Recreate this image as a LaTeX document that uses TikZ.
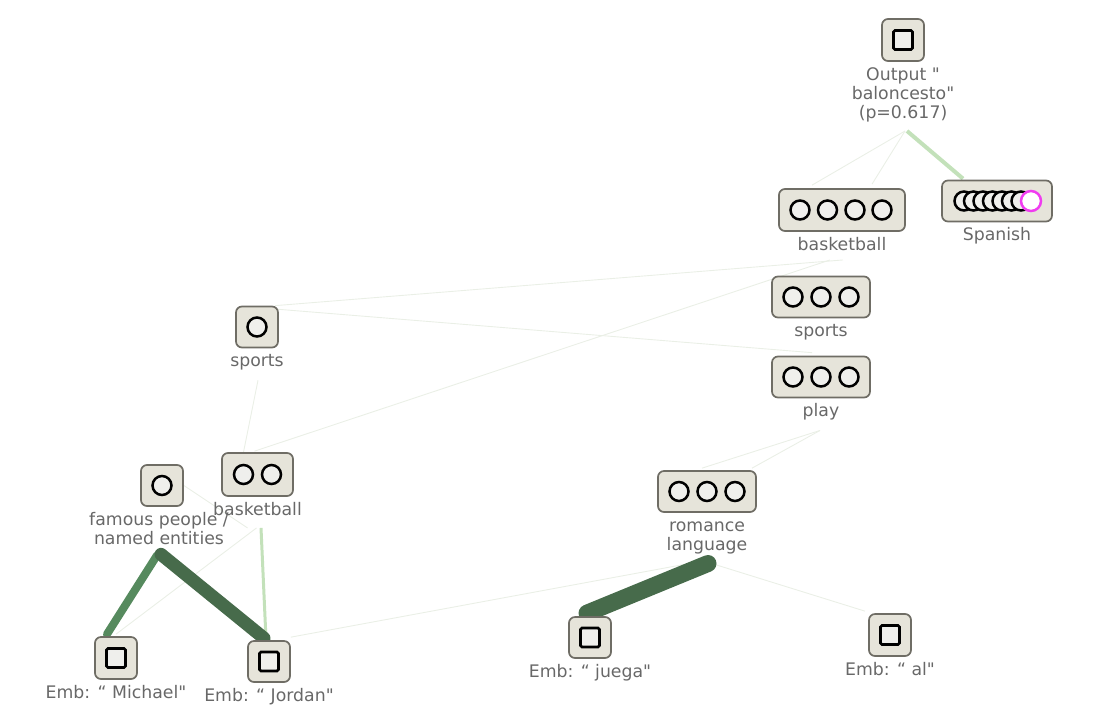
\documentclass[tikz,border=0pt]{standalone}
\usepackage{fontspec}
\setmainfont{DejaVu Sans}[Ligatures=TeXOff]
\usetikzlibrary{calc,backgrounds}
\definecolor{boxfill}{HTML}{E6E4DA}
\definecolor{boxedge}{HTML}{6F6D65}
\definecolor{featfill}{HTML}{EFEFEC}
\definecolor{lblgray}{HTML}{686868}
\definecolor{faintc}{HTML}{EAEFE6}
\definecolor{lightgreen}{HTML}{C3E1BA}
\definecolor{midgreen}{HTML}{568A5E}
\definecolor{darkgreen}{HTML}{476B4B}
\definecolor{hilite}{HTML}{F03CF0}
\begin{document}
\begin{tikzpicture}[x=1pt,y=-1pt,
  box/.style={draw=boxedge, fill=boxfill, line width=1.7pt, rounded corners=6pt, inner sep=0pt},
  feat/.style={draw=black, fill=featfill, line width=2.5pt},
  embsq/.style={draw=black, fill=featfill, line width=2.7pt, rounded corners=1.5pt},
  lbl/.style={text=lblgray, font=\fontsize{17.3}{18.5}\selectfont, align=center, inner sep=0pt, anchor=north},
  faint/.style={draw=faintc, line width=0.9pt},
  weak/.style={draw=lightgreen, line width=3pt},
]
\useasboundingbox (0,0) rectangle (1102,716);

% ---- feature boxes ----
\node[box, minimum width=42pt, minimum height=42pt] (out) at (903,40) {};
\node[box, minimum width=126pt, minimum height=42pt] (bbT) at (842,210) {};
\node[box, minimum width=110pt, minimum height=41pt] (spa) at (997,201) {};
\node[box, minimum width=98pt, minimum height=41pt] (spR) at (821,297) {};
\node[box, minimum width=98pt, minimum height=41pt] (ply) at (821,377) {};
\node[box, minimum width=42pt, minimum height=41pt] (spL) at (257,327) {};
\node[box, minimum width=71pt, minimum height=43pt] (bbL) at (257.5,474.5) {};
\node[box, minimum width=42pt, minimum height=41pt] (fam) at (162,485.5) {};
\node[box, minimum width=98pt, minimum height=41pt] (rom) at (707,491.5) {};
\node[box, minimum width=42pt, minimum height=42pt] (mic) at (116,658) {};
\node[box, minimum width=42pt, minimum height=41pt] (jor) at (269,661.5) {};
\node[box, minimum width=42pt, minimum height=41pt] (jue) at (590,637.5) {};
\node[box, minimum width=42pt, minimum height=42pt] (al) at (890,635) {};

% ---- glyphs inside the boxes ----
\foreach \n in {out,mic,jor,jue,al}
  \draw[embsq] ($(\n.center)+(-9.5,-9.5)$) rectangle ($(\n.center)+(9.5,9.5)$);
\foreach \dx in {-42,-14.5,13,40}
  \draw[feat] ($(bbT.center)+(\dx,0)$) circle[radius=9.5];
\foreach \dx in {-28,0,28}{
  \draw[feat] ($(spR.center)+(\dx,0)$) circle[radius=9.5];
  \draw[feat] ($(ply.center)+(\dx,0)$) circle[radius=9.5];
  \draw[feat] ($(rom.center)+(\dx,0)$) circle[radius=9.5];
}
\foreach \dx in {-14,14}
  \draw[feat] ($(bbL.center)+(\dx,0)$) circle[radius=9.5];
\draw[feat] (spL.center) circle[radius=9.5];
\draw[feat] (fam.center) circle[radius=9.5];
\foreach \dx in {-33,-23.5,-14,-4.5,5,14.5,24}
  \draw[feat] ($(spa.center)+(\dx,0)$) circle[radius=9.5];
\draw[draw=hilite, fill=white, line width=2.5pt] ($(spa.center)+(34,0)$) circle[radius=10];

% ---- labels ----
\node[lbl] (outL) at ($(out.south)+(0,5)$) {\strut Output "\\baloncesto"\\(p=0.617)};
\node[lbl] (bbTL) at ($(bbT.south)+(0,5)$) {\strut basketball};
\node[lbl] (spaL) at ($(spa.south)+(0,5)$) {\strut Spanish};
\node[lbl] (spRL) at ($(spR.south)+(0,5)$) {\strut sports};
\node[lbl] (plyL) at ($(ply.south)+(0,5)$) {\strut play};
\node[lbl] (spLL) at ($(spL.south)+(0,5)$) {\strut sports};
\node[lbl] (bbLL) at ($(bbL.south)+(0,5)$) {\strut basketball};
\node[lbl] (famL) at ($(fam.south)+(-3,5)$) {\strut famous people /\\named entities};
\node[lbl] (romL) at ($(rom.south)+(0,5)$) {\strut romance\\language};
\node[lbl] (micL) at ($(mic.south)+(0,5)$) {\strut Emb: “ Michael"};
\node[lbl] (jorL) at ($(jor.south)+(0,5)$) {\strut Emb: “ Jordan"};
\node[lbl] (jueL) at ($(jue.south)+(0,5)$) {\strut Emb: “ juega"};
\node[lbl] (alL) at ($(al.south)+(0,5)$) {\strut Emb: “ al"};

% ---- connectors (behind the boxes) ----
\begin{pgfonlayer}{background}
  % faint links
  \draw[faint] ($(outL.south)+(2,9)$) -- ($(bbT.north)+(-30,-3)$);
  \draw[faint] ($(outL.south)+(2,9)$) -- ($(bbT.north)+(30,-4)$);
  \draw[faint] ($(spL.north east)+(-4,0)$) -- ($(bbTL.south)+(1,4)$);
  \draw[faint] ($(spL.east)+(-4,-18)$) -- ($(ply.north)+(-9,-3)$);
  \draw[faint] ($(bbL.north)+(-3,-1)$) -- ($(bbTL.south)+(-12,4)$);
  \draw[faint] ($(spLL.south)+(1,8)$) -- ($(bbL.north)+(-14,0)$);
  \draw[faint] ($(plyL.south)+(-1,8)$) -- ($(rom.north)+(45,-2)$);
  \draw[faint] ($(plyL.south)+(-1,8)$) -- ($(rom.north)+(-5,-2)$);
  \draw[faint] ($(romL.south)+(8,10)$) -- ($(al.north)+(-25,-2)$);
  \draw[faint] ($(jor.north east)+(0,-3)$) -- ($(romL.south)+(-7,7)$);
  \draw[faint] ($(mic.north)+(0,-2)$) -- ($(bbLL.south)+(-1,7)$);
  \draw[faint] ($(fam.east)+(0,0)$) -- ($(bbLL.south)+(-10,7)$);
  % weighted links
  \draw[weak, line width=4pt] ($(outL.south)+(4,9)$) -- ($(spa.north)+(-34,-1)$);
  \draw[weak] ($(bbLL.south)+(3.5,7)$) -- ($(jor.north)+(-3,-1)$);
  \draw[draw=midgreen, line width=8pt, line cap=round] ($(famL.south)+(-2,10)$) -- ($(mic.north)+(-9,-2)$);
  \draw[draw=darkgreen, line width=13pt, line cap=round] ($(famL.south)+(2,9)$) -- ($(jor.north)+(-5,-2)$);
  \draw[draw=darkgreen, line width=17pt, line cap=round] ($(romL.south)+(1,9)$) -- ($(jue.north)+(-3,-3)$);
\end{pgfonlayer}
\end{tikzpicture}
\end{document}
